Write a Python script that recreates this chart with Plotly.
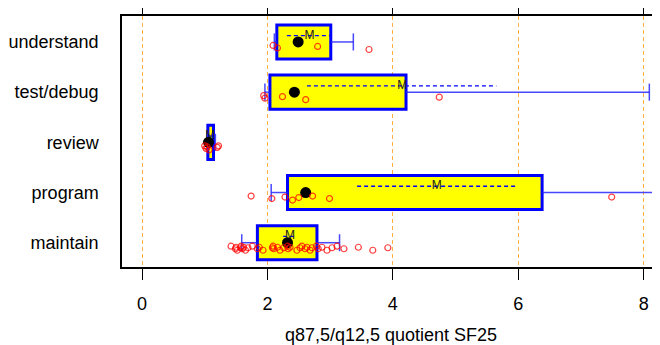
import plotly.graph_objects as go

# ---- data (bottom to top) ----
categories = ["maintain", "program", "review", "test/debug", "understand"]
q_low   = [1.84, 2.32, 1.05, 2.04, 2.15]   # box left (25%)
q_high  = [2.79, 6.38, 1.14, 4.21, 3.01]   # box right (75%)
w_low   = [1.59, 2.06, 1.04, 1.96, 2.11]   # lower whisker
w_high  = [3.15, 9.20, 1.17, 8.09, 3.37]   # upper whisker
medians = [2.32, 2.61, 1.06, 2.43, 2.49]
means   = [2.36, 4.70, 1.09, 4.15, 2.67]
se_low  = [2.25, 3.43, 1.07, 2.63, 2.31]
se_high = [2.47, 5.97, 1.11, 5.65, 3.00]
points = {
    "maintain": [1.42, 1.49, 1.50, 1.52, 1.57, 1.58, 1.60, 1.62, 1.65, 1.69, 1.76, 1.84,
                 1.87, 1.93, 2.08, 2.09, 2.10, 2.16, 2.20, 2.26, 2.32, 2.33, 2.36, 2.47,
                 2.52, 2.55, 2.60, 2.63, 2.68, 2.71, 2.78, 2.81, 2.87, 2.95, 3.03, 3.11,
                 3.22, 3.45, 3.68, 3.92],
    "program": [1.74, 2.07, 2.28, 2.40, 2.50, 2.72, 2.99, 7.49, 10.5],
    "review": [1.00, 1.02, 1.04, 1.07, 1.20, 1.22],
    "test/debug": [1.94, 1.96, 2.24, 2.61, 4.74],
    "understand": [2.09, 2.16, 2.80, 3.62],
}
x_ticks = [0, 2, 4, 6, 8]
x_title = "q87,5/q12,5 quotient SF25"

ypos = list(range(1, len(categories) + 1))
FONT = "Liberation Sans, Arial, sans-serif"

fig = go.Figure()

# boxes
fig.add_trace(go.Bar(
    orientation="h", y=ypos, base=q_low,
    x=[h - l for l, h in zip(q_low, q_high)],
    width=0.68,
    marker=dict(color="#FFFF00", line=dict(color="#0000FF", width=3)),
    hoverinfo="skip", showlegend=False))

# whiskers
wx, wy = [], []
cap = 0.17
for y, lo, hi, wl, wh in zip(ypos, q_low, q_high, w_low, w_high):
    wx += [wl, lo, None, hi, wh, None, wl, wl, None, wh, wh, None]
    wy += [y, y, None, y, y, None, y - cap, y + cap, None, y - cap, y + cap, None]
fig.add_trace(go.Scatter(x=wx, y=wy, mode="lines",
                         line=dict(color="rgba(40,40,255,0.85)", width=1.5),
                         hoverinfo="skip", showlegend=False))

# mean +- standard error (dashed)
off = 0.125
sx, sy = [], []
for y, a, b in zip(ypos, se_low, se_high):
    sx += [a, b, None]
    sy += [y + off, y + off, None]
fig.add_trace(go.Scatter(x=sx, y=sy, mode="lines",
                         line=dict(color="#0000FF", width=1.3, dash="4px,3px"),
                         hoverinfo="skip", showlegend=False))

# M for mean
fig.add_trace(go.Scatter(x=means, y=[y + off for y in ypos], mode="text", text=["M"] * len(means),
                         textfont=dict(family=FONT, size=12, color="#222222"),
                         hoverinfo="skip", showlegend=False))

# median dots
fig.add_trace(go.Scatter(x=medians, y=ypos, mode="markers",
                         marker=dict(color="black", size=11),
                         hoverinfo="skip", showlegend=False))

# data points
jit = [-0.07, -0.12, -0.09, -0.15, -0.10]
px, py = [], []
for y, c in zip(ypos, categories):
    for i, v in enumerate(points[c]):
        px.append(v)
        py.append(y + jit[i % len(jit)])
fig.add_trace(go.Scatter(x=px, y=py, mode="markers",
                         marker=dict(symbol="circle-open", size=6, color="rgba(255,0,0,0.75)",
                                     line=dict(width=1.2)),
                         hoverinfo="skip", showlegend=False))

fig.update_layout(
    width=652, height=337,
    margin=dict(l=114, r=0, t=8, b=78),
    paper_bgcolor="white", plot_bgcolor="white",
    font=dict(family=FONT, size=18, color="black"),
    showlegend=False,
)
fig.update_xaxes(
    range=[-0.319, 8.26], tickvals=x_ticks, ticktext=[str(t) for t in x_ticks],
    showline=True, linecolor="black", linewidth=1.5, mirror="ticks",
    ticks="outside", ticklen=11, tickwidth=1, tickcolor="black",
    ticklabelstandoff=9, automargin=False,
    showgrid=True, gridcolor="#FFB040", gridwidth=1, griddash="4px,3px",
    zeroline=False,
    title=dict(text=x_title, standoff=20, font=dict(size=18)),
    tickfont=dict(size=18),
)
fig.update_yaxes(
    range=[0.516, 5.517], tickvals=ypos, ticktext=categories,
    showline=True, linecolor="black", linewidth=1.5, automargin=False,
    ticks="", showgrid=False, zeroline=False, ticklabelstandoff=18,
    tickfont=dict(size=18),
)

fig.write_html("out.html")
